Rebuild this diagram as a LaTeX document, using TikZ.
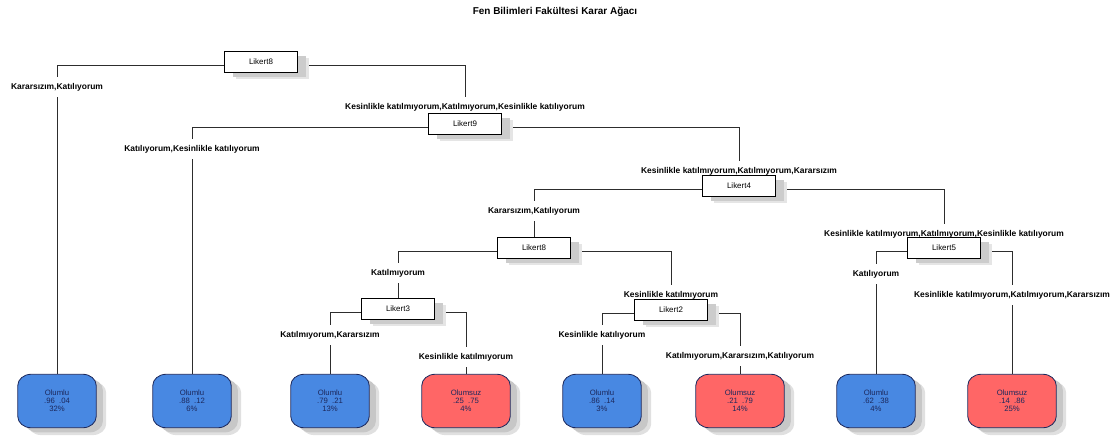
\documentclass[tikz,border=0pt]{standalone}
\usepackage{fontspec}
\setmainfont{Liberation Sans}
\usepackage{tikz}
\usetikzlibrary{positioning,shadows,backgrounds}
\usepackage{xcolor}

\definecolor{olumlu}{RGB}{72,136,226}
\definecolor{olumsuz}{RGB}{255,102,102}
\definecolor{leafline}{RGB}{28,40,92}
\definecolor{edgegray}{RGB}{45,45,45}

% corner radii of the leaf barrels
\newcommand{\brx}{4mm}
\newcommand{\bry}{3.4mm}
% barrel outline of leaf #1, shifted by #2, #3
\newcommand{\barrel}[3]{([xshift=#2,yshift=#3-\bry]#1.north west) arc[start angle=180,end angle=90,x radius=\brx,y radius=\bry] -- ([xshift=#2-\brx,yshift=#3]#1.north east) arc[start angle=90,end angle=0,x radius=\brx,y radius=\bry] -- ([xshift=#2,yshift=#3+\bry]#1.south east) arc[start angle=0,end angle=-90,x radius=\brx,y radius=\bry] -- ([xshift=#2+\brx,yshift=#3]#1.south west) arc[start angle=270,end angle=180,x radius=\brx,y radius=\bry] -- cycle}

\begin{document}
\begin{tikzpicture}[x=0.3mm,y=-0.3mm,
  split/.style={draw=black, fill=white, line width=0.6pt, minimum width=21.9mm, minimum height=6.3mm, inner sep=0pt, font=\fontsize{6.8}{8}\selectfont,
    drop shadow={shadow xshift=3.4mm, shadow yshift=-2mm, fill=black!10, opacity=1},
    drop shadow={shadow xshift=2.6mm, shadow yshift=-1.3mm, fill=black!20, opacity=1}},
  branch/.style={fill=white, inner xsep=1pt, inner ysep=0pt, minimum height=6mm, font=\bfseries\fontsize{7.2}{8}\selectfont},
  leaf/.style={minimum width=23.4mm, minimum height=15.9mm, inner sep=0pt, align=center, text=leafline, font=\fontsize{6.6}{7}\selectfont},
  wide/.style={minimum width=26.4mm},
  edge/.style={draw=edgegray, line width=0.7pt}]
\useasboundingbox (0,0) rectangle (1110,436);

%Title
\node[font=\bfseries\fontsize{8.5}{10}\selectfont] (title) at (555,12) {Fen Bilimleri Fakültesi Karar Ağacı};

%Branch labels
\node[branch] (b1) at (57,87) {Kararsızım,Katılıyorum};
\node[branch] (b2) at (465,107) {Kesinlikle katılmıyorum,Katılmıyorum,Kesinlikle katılıyorum};
\node[branch] (b3) at (192,149) {Katılıyorum,Kesinlikle katılıyorum};
\node[branch] (b4) at (739,171) {Kesinlikle katılmıyorum,Katılmıyorum,Kararsızım};
\node[branch] (b5) at (534,211) {Kararsızım,Katılıyorum};
\node[branch] (b6) at (944,234) {Kesinlikle katılmıyorum,Katılmıyorum,Kesinlikle katılıyorum};
\node[branch] (b7) at (398,273) {Katılmıyorum};
\node[branch] (b8) at (671,295) {Kesinlikle katılmıyorum};
\node[branch] (b9) at (876,274) {Katılıyorum};
\node[branch] (b10) at (1012,295) {Kesinlikle katılmıyorum,Katılmıyorum,Kararsızım};
\node[branch] (b11) at (330,335) {Katılmıyorum,Kararsızım};
\node[branch] (b12) at (466,357) {Kesinlikle katılmıyorum};
\node[branch] (b13) at (602,335) {Kesinlikle katılıyorum};
\node[branch] (b14) at (740,356) {Katılmıyorum,Kararsızım,Katılıyorum};

%Split nodes
\node[split] (k8) at (261,62) {Likert8};
\node[split] (k9) at (465,124) {Likert9};
\node[split] (k4) at (739,186) {Likert4};
\node[split] (k8b) at (534,248) {Likert8};
\node[split] (k5) at (944,248) {Likert5};
\node[split] (k3) at (398,309) {Likert3};
\node[split] (k2) at (671,310) {Likert2};

%Leaves
\node[leaf] (o1) at (57,401) {Olumlu\\.96\ \ .04\\32\%};
\node[leaf] (o2) at (192,401) {Olumlu\\.88\ \ .12\\6\%};
\node[leaf] (o3) at (330,401) {Olumlu\\.79\ \ .21\\13\%};
\node[leaf,wide] (o4) at (466,401) {Olumsuz\\.25\ \ .75\\4\%};
\node[leaf] (o5) at (602,401) {Olumlu\\.86\ \ .14\\3\%};
\node[leaf,wide] (o6) at (740,401) {Olumsuz\\.21\ \ .79\\14\%};
\node[leaf] (o7) at (876,401) {Olumlu\\.62\ \ .38\\4\%};
\node[leaf,wide] (o8) at (1012,401) {Olumsuz\\.14\ \ .86\\25\%};

\begin{scope}[on background layer]
%Connectors
\draw[edge] ([yshift=-3pt]k8.west) -| (o1.north);
\draw[edge] ([yshift=-3pt]k8.east) -| (k9.north);
\draw[edge] ([yshift=-3pt]k9.west) -| (o2.north);
\draw[edge] ([yshift=-3pt]k9.east) -| (k4.north);
\draw[edge] ([yshift=-3pt]k4.west) -| (k8b.north);
\draw[edge] ([yshift=-3pt]k4.east) -| (k5.north);
\draw[edge] ([yshift=-3pt]k8b.west) -| (k3.north);
\draw[edge] ([yshift=-3pt]k8b.east) -| (k2.north);
\draw[edge] ([yshift=-3pt]k3.west) -| (o3.north);
\draw[edge] ([yshift=-3pt]k3.east) -| (o4.north);
\draw[edge] ([yshift=-3pt]k2.west) -| (o5.north);
\draw[edge] ([yshift=-3pt]k2.east) -| (o6.north);
\draw[edge] ([yshift=-3pt]k5.west) -| (o7.north);
\draw[edge] ([yshift=-3pt]k5.east) -| (o8.north);

%Leaf barrels
\foreach \n/\c in {o1/olumlu,o2/olumlu,o3/olumlu,o4/olumsuz,o5/olumlu,o6/olumsuz,o7/olumlu,o8/olumsuz} {
  \fill[black!12] \barrel{\n}{3mm}{-2.2mm};
  \fill[black!22] \barrel{\n}{2mm}{-1.4mm};
  \filldraw[fill=\c, draw=leafline, line width=0.7pt] \barrel{\n}{0pt}{0pt};
}
\end{scope}
\end{tikzpicture}
\end{document}
